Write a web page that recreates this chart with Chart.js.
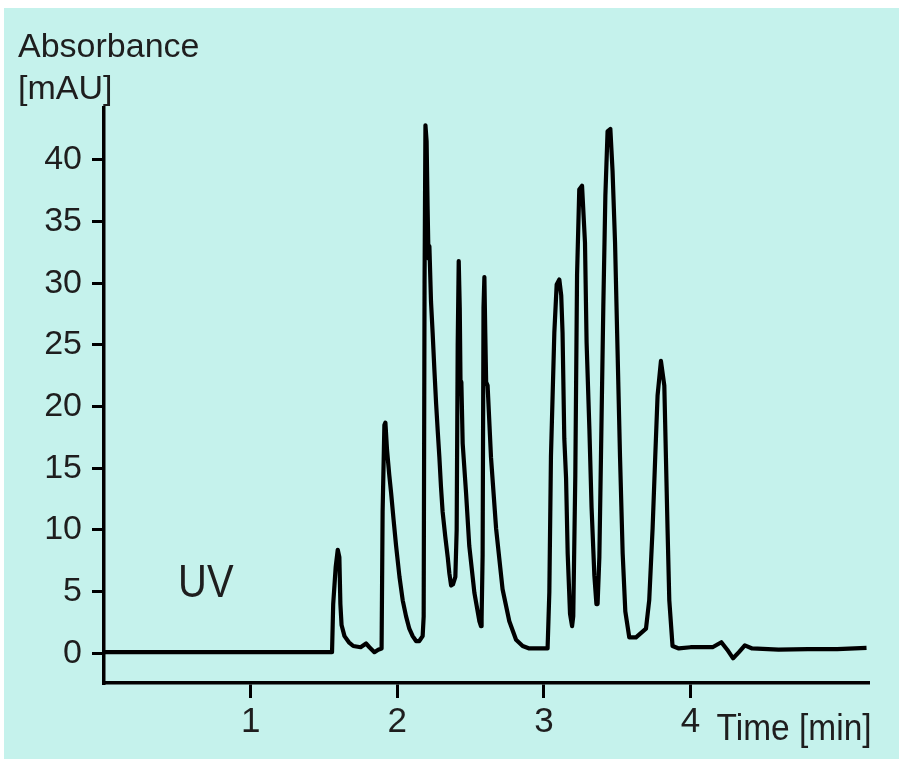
<!DOCTYPE html>
<html><head><meta charset="utf-8">
<script src="https://cdn.jsdelivr.net/npm/chart.js@4.4.0/dist/chart.umd.min.js"></script>
<style>html,body{margin:0;padding:0;background:#fff;} canvas{display:block;}</style>
</head><body>
<canvas id="c" width="899" height="759"></canvas>
<script>
// ---- data ----
const timeMin = [
  0.00, 0.50, 1.00, 1.30, 1.555, 1.563, 1.580, 1.594, 1.605, 1.612, 1.620, 1.640, 1.670, 1.700, 1.750, 1.787, 1.810, 1.844, 1.870, 1.893,
  1.900, 1.912, 1.919, 1.930, 1.945, 1.958, 1.975, 1.992, 2.015, 2.037, 2.060, 2.082, 2.105, 2.128, 2.150, 2.173, 2.180,
  2.186, 2.192, 2.200, 2.207, 2.213, 2.219, 2.230, 2.241, 2.253, 2.265, 2.276, 2.287, 2.298, 2.309, 2.327, 2.344, 2.355, 2.367, 2.380, 2.396,
  2.405, 2.412, 2.419, 2.426, 2.432, 2.437, 2.446, 2.469, 2.491, 2.526, 2.560, 2.571, 2.575,
  2.582, 2.588, 2.594, 2.600, 2.606, 2.616, 2.639, 2.674, 2.718, 2.764, 2.810, 2.855, 2.900, 2.960, 3.025,
  3.037, 3.048, 3.071, 3.087, 3.105, 3.118, 3.127, 3.139, 3.151, 3.162, 3.178, 3.192, 3.200,
  3.214, 3.226, 3.241, 3.260, 3.280, 3.291, 3.310, 3.325, 3.344, 3.358, 3.366, 3.378,
  3.389, 3.405, 3.419, 3.434, 3.453, 3.468, 3.485, 3.502, 3.519, 3.537, 3.555, 3.582, 3.628, 3.696,
  3.718, 3.741, 3.759, 3.775, 3.798, 3.821, 3.832, 3.843, 3.855, 3.877, 3.920,
  4.000, 4.150, 4.210, 4.250, 4.290, 4.330, 4.370, 4.420, 4.600, 4.800, 5.000, 5.200
];
const absorbanceMAU = [
  0.1, 0.1, 0.1, 0.1, 0.1, 4.0, 7.0, 8.4, 7.8, 4.0, 2.3, 1.4, 0.9, 0.6, 0.5, 0.8, 0.5, 0.1, 0.3, 0.4,
  11.5, 18.5, 18.7, 16.5, 14.5, 13.0, 10.8, 8.7, 6.2, 4.3, 3.0, 2.0, 1.4, 1.0, 1.0, 1.4, 3.0,
  30.0, 42.8, 41.5, 36.0, 32.0, 33.0, 28.5, 26.0, 23.0, 20.2, 18.0, 15.9, 13.5, 11.5, 9.5, 7.8, 6.5, 5.5, 5.6, 6.2,
  10.0, 25.0, 31.8, 28.0, 21.0, 22.0, 17.0, 13.0, 8.7, 4.9, 2.6, 2.2, 2.8,
  8.0, 28.0, 30.5, 26.0, 22.0, 21.7, 15.9, 10.1, 5.2, 2.6, 1.1, 0.6, 0.4, 0.4, 0.4,
  5.0, 16.0, 26.0, 29.9, 30.3, 29.0, 26.0, 17.4, 14.2, 8.1, 3.2, 2.2, 3.0,
  14.4, 30.7, 37.6, 37.9, 33.3, 25.2, 18.2, 11.8, 6.3, 4.0, 4.0, 7.8,
  15.9, 28.1, 37.1, 42.3, 42.5, 39.1, 33.3, 24.6, 15.9, 8.1, 3.4, 1.3, 1.3, 2.0,
  4.3, 10.1, 15.9, 20.9, 23.7, 21.7, 15.9, 10.1, 4.3, 0.6, 0.4,
  0.5, 0.5, 0.9, 0.3, -0.4, 0.1, 0.65, 0.4, 0.3, 0.35, 0.35, 0.45
];
const xTickValues = [1, 2, 3, 4];
const yTickValues = [0, 5, 10, 15, 20, 25, 30, 35, 40];
const yTitleLines = ['Absorbance', '[mAU]'];
const xTitle = 'Time [min]';
const traceLabel = 'UV';

const FONT = '"Liberation Sans", Arial, sans-serif';
const points = timeMin.map((t, i) => ({ x: t, y: absorbanceMAU[i] }));

const bgPlugin = {
  id: 'bg',
  beforeDraw(chart) {
    const ctx = chart.ctx;
    ctx.save();
    ctx.fillStyle = '#ffffff';
    ctx.fillRect(0, 0, chart.width, chart.height);
    ctx.fillStyle = '#C5F2EC';
    ctx.fillRect(4, 8, chart.width - 4, chart.height - 8);
    ctx.restore();
  }
};

function condensedText(ctx, text, x, y, size, sx) {
  ctx.save();
  ctx.font = size + 'px ' + FONT;
  ctx.translate(x, y);
  ctx.scale(sx, 1);
  ctx.fillText(text, 0, 0);
  ctx.restore();
}

const textPlugin = {
  id: 'texts',
  afterDraw(chart) {
    const ctx = chart.ctx;
    const xs = chart.scales.x, ys = chart.scales.y;
    ctx.save();
    ctx.fillStyle = '#1e1e1e';
    ctx.textBaseline = 'alphabetic';
    ctx.textAlign = 'left';
    ctx.font = '34px ' + FONT;
    ctx.fillText(yTitleLines[0], 18, 57);
    ctx.fillText(yTitleLines[1], 18, 99);
    condensedText(ctx, xTitle, xs.getPixelForValue(4) + 26, chart.chartArea.bottom + 57, 36, 0.93);
    condensedText(ctx, traceLabel, xs.getPixelForValue(0.505), ys.getPixelForValue(4.6), 47, 0.85);
    ctx.restore();
  }
};

new Chart(document.getElementById('c'), {
  type: 'line',
  data: {
    datasets: [{
      label: traceLabel,
      data: points,
      borderColor: '#000',
      borderWidth: 4.2,
      pointRadius: 0,
      tension: 0,
      fill: false,
      borderJoinStyle: 'round'
    }]
  },
  options: {
    responsive: false,
    animation: false,
    devicePixelRatio: 1,
    layout: { padding: { top: 108, right: 31, left: 0, bottom: 0 } },
    plugins: { legend: { display: false }, tooltip: { enabled: false }, title: { display: false } },
    scales: {
      x: {
        type: 'linear',
        min: 0, max: 5.21,
        afterFit(s) { s.height = 76; },
        afterBuildTicks(s) { s.ticks = xTickValues.map(v => ({ value: v })); },
        grid: { display: true, drawOnChartArea: false, drawTicks: true, tickLength: 15, color: '#000', lineWidth: 3 },
        border: { display: true, color: '#000', width: 3.5 },
        ticks: { padding: 3, color: '#1e1e1e', font: { size: 35, family: FONT }, maxRotation: 0, autoSkip: false }
      },
      y: {
        type: 'linear',
        min: -2.4, max: 44.2,
        afterFit(s) { s.width = 104; },
        afterBuildTicks(s) { s.ticks = yTickValues.map(v => ({ value: v })); },
        grid: { display: true, drawOnChartArea: false, drawTicks: true, tickLength: 12, color: '#000', lineWidth: 3 },
        border: { display: true, color: '#000', width: 3.5 },
        ticks: { padding: 10, color: '#1e1e1e', font: { size: 34, family: FONT }, autoSkip: false }
      }
    }
  },
  plugins: [bgPlugin, textPlugin]
});
</script>
</body></html>
